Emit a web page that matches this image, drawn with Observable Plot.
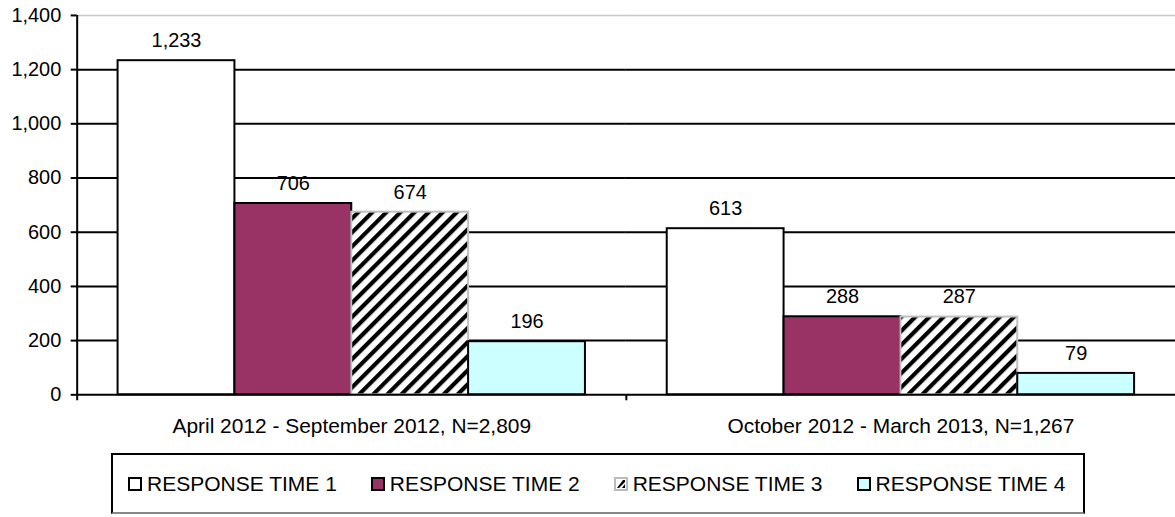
<!DOCTYPE html>
<html>
<head>
<meta charset="utf-8">
<script src="https://cdn.jsdelivr.net/npm/d3@7"></script>
<script src="https://cdn.jsdelivr.net/npm/@observablehq/plot@0.6"></script>
<style>
  html, body { margin: 0; padding: 0; background: #fff; overflow: hidden; }
  body { font-family: "Liberation Sans", Arial, sans-serif; }
  #wrap { position: relative; width: 1175px; height: 517px; overflow: hidden; }
  #legend {
    position: absolute; left: 111px; top: 453px; width: 974px; height: 61px;
    border: 2px solid #000; border-bottom-color: #888;
    display: flex; align-items: center; padding-left: 15px; box-sizing: border-box;
    font-size: 21px; color: #000; gap: 34px;
  }
  .item { display: flex; align-items: center; gap: 5px; white-space: nowrap; }
  .sw { width: 14px; height: 14px; display: block; }
</style>
</head>
<body>
<svg width="0" height="0" style="position:absolute">
  <defs>
    <pattern id="hatch" patternUnits="userSpaceOnUse" width="10" height="10" patternTransform="rotate(45)">
      <rect width="10" height="10" fill="#fff"></rect>
      <rect x="3" y="0" width="4.2" height="10" fill="#000"></rect>
    </pattern>
  </defs>
</svg>
<div id="wrap">
  <div id="chart"></div>
  <div id="legend"></div>
</div>
<script>
// ---- data ----
const periods = ["April 2012 - September 2012, N=2,809", "October 2012 - March 2013, N=1,267"];
const series = ["RESPONSE TIME 1", "RESPONSE TIME 2", "RESPONSE TIME 3", "RESPONSE TIME 4"];
const rt1 = [1233, 613];
const rt2 = [706, 288];
const rt3 = [674, 287];
const rt4 = [196, 79];
const yTicks = [0, 200, 400, 600, 800, 1000, 1200, 1400];
const seriesFill = ["#ffffff", "#993366", "url(#hatch)", "#ccffff"];
const seriesStroke = ["#000000", "#000000", "#c0c0c0", "#000000"];

const seriesValues = [rt1, rt2, rt3, rt4];
const data = [];
periods.forEach((p, pi) => series.forEach((s, si) => data.push({period: p, series: s, value: seriesValues[si][pi]})));

// ---- layout ----
const W = 1180, H = 444, mL = 77, mR = 0, mT = 15, mB = 48;
const po = 0.35;
const facetW = (W - mL - mR) / periods.length;
const bw = facetW / (series.length + 2 * po);
const edgeDx = -(bw / 2 + po * bw);
const tickExt = 6 * 1400 / (H - mT - mB);

const barMarks = series.map((s, i) => Plot.barY(data.filter(d => d.series === s), {
  fx: "period", x: "series", y: "value",
  fill: seriesFill[i], stroke: seriesStroke[i], strokeWidth: 2
}));

const chart = Plot.plot({
  width: W, height: H,
  marginLeft: mL, marginRight: mR, marginTop: mT, marginBottom: mB,
  style: {fontFamily: "'Liberation Sans', Arial, sans-serif", fontSize: "20px", color: "#000", background: "transparent", overflow: "visible"},
  fx: {domain: periods, padding: 0, round: false, label: null},
  x: {domain: series, paddingInner: 0, paddingOuter: po, round: false, axis: null},
  y: {domain: [0, 1400], label: null},
  marks: [
    Plot.ruleY(yTicks.filter(v => v > 0 && v < 1400), {stroke: "#000", strokeWidth: 2}),
    Plot.ruleY([1400], {stroke: "#c8c8c8", strokeWidth: 1.5}),
    ...barMarks,
    Plot.ruleY([0], {stroke: "#000", strokeWidth: 2}),
    Plot.ruleX([periods[0]], {fx: d => d, x: () => series[0], y1: -tickExt, y2: 1400, dx: edgeDx, stroke: "#000", strokeWidth: 2}),
    Plot.ruleX([periods[1]], {fx: d => d, x: () => series[0], y1: -tickExt, y2: 0, dx: edgeDx, stroke: "#000", strokeWidth: 2}),
    Plot.text(data, {fx: "period", x: "series", y: "value", text: d => d3.format(",")(d.value), dy: -20, lineAnchor: "middle", fontSize: 20, fill: "#000"}),
    Plot.axisY(yTicks, {tickFormat: d3.format(","), tickSize: 6, tickPadding: 10, strokeWidth: 2, fontSize: 20, label: null}),
    Plot.axisFx({anchor: "bottom", tickSize: 0, tickPadding: 23, fontSize: 21, label: null})
  ]
});
document.getElementById("chart").appendChild(chart);

// ---- legend ----
const legend = document.getElementById("legend");
const swatchSvg = [
  '<svg class="sw" viewBox="0 0 14 14"><rect x="1" y="1" width="12" height="12" fill="#fff" stroke="#000" stroke-width="2"/></svg>',
  '<svg class="sw" viewBox="0 0 14 14"><rect x="1" y="1" width="12" height="12" fill="#993366" stroke="#000" stroke-width="2"/></svg>',
  '<svg class="sw" viewBox="0 0 14 14"><rect x="1" y="1" width="12" height="12" fill="#fff" stroke="#bbb" stroke-width="2"/><polygon points="3,11 9,3 11,3 11,5 5,11 3,11" fill="#000"/><polygon points="11,7 11,11 8,11" fill="#000"/></svg>',
  '<svg class="sw" viewBox="0 0 14 14"><rect x="1" y="1" width="12" height="12" fill="#ccffff" stroke="#000" stroke-width="2"/></svg>'
];
series.forEach((s, i) => {
  const it = document.createElement("div");
  it.className = "item";
  it.innerHTML = swatchSvg[i] + "<span>" + s + "</span>";
  legend.appendChild(it);
});
</script>
</body>
</html>
